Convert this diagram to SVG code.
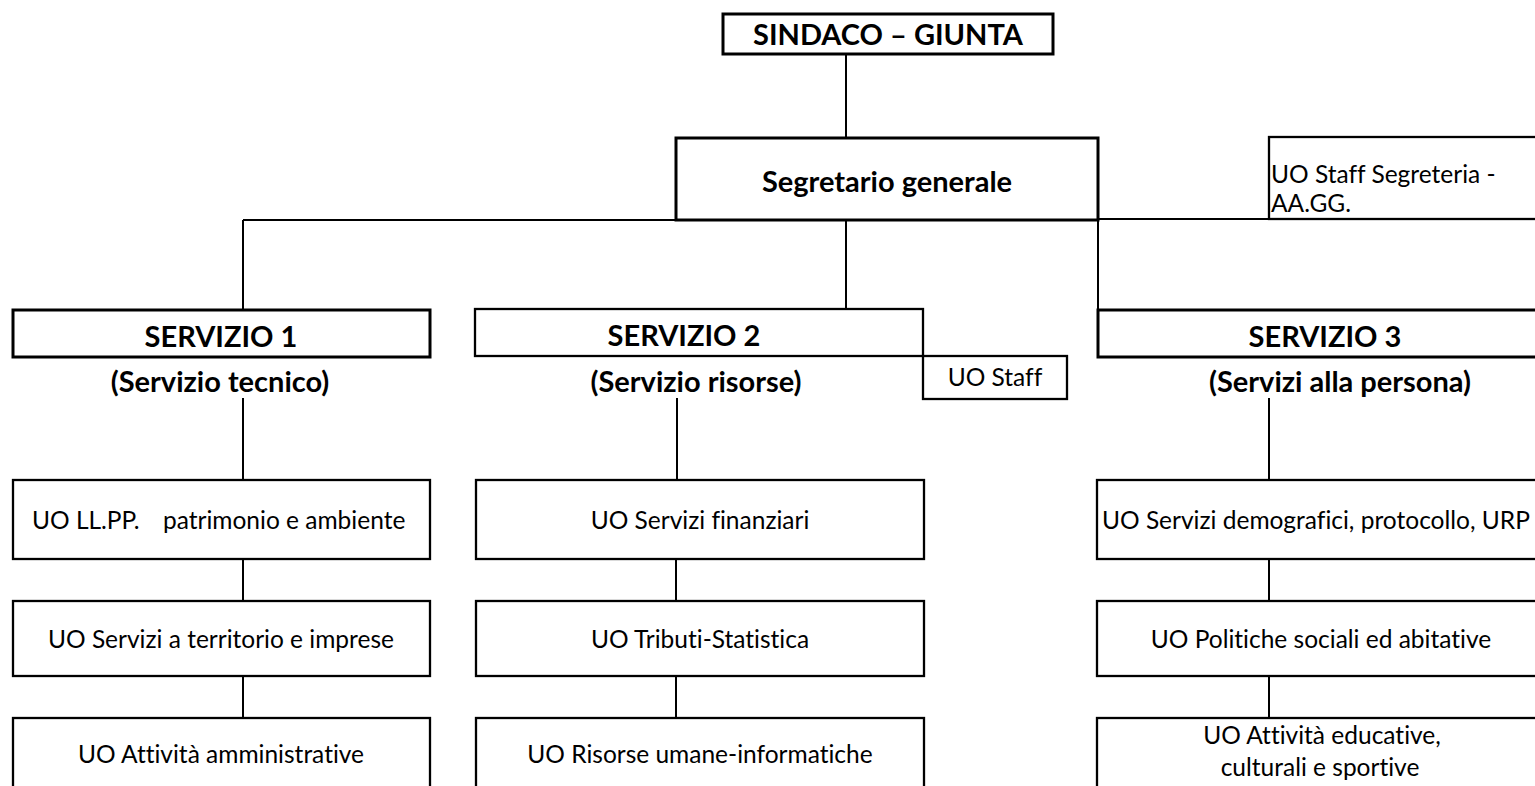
<svg xmlns="http://www.w3.org/2000/svg" width="1535" height="786" viewBox="0 0 1535 786">
<style>
  .bg { fill: #ffffff; }
  .box { fill: #ffffff; stroke: #000000; stroke-width: 2.3; }
  .thick { fill: #ffffff; stroke: #000000; stroke-width: 3; }
  .conn line { stroke: #000000; stroke-width: 2; }
  text { font-variant-ligatures: none; }
  .h { font-family: Lato, "Liberation Sans", sans-serif; font-weight: bold; font-size: 29px; fill: #000000; }
  .t { font-family: Lato, "Liberation Sans", sans-serif; font-size: 24.5px; fill: #000000; }
  .m { text-anchor: middle; }
</style>
<rect class="bg" x="0" y="0" width="1535" height="786"/>

<g id="connectors" class="conn">
  <line x1="846" y1="54" x2="846" y2="137"/>
  <line x1="243" y1="220" x2="676" y2="220"/>
  <line x1="243" y1="220" x2="243" y2="310"/>
  <line x1="846" y1="220" x2="846" y2="309"/>
  <line x1="1098" y1="220" x2="1098" y2="310"/>
  <line x1="1098" y1="219" x2="1269" y2="219"/>
  <line x1="243" y1="398" x2="243" y2="480"/>
  <line x1="677" y1="398" x2="677" y2="480"/>
  <line x1="1269" y1="398" x2="1269" y2="480"/>
  <line x1="243" y1="559" x2="243" y2="601"/>
  <line x1="243" y1="676" x2="243" y2="718"/>
  <line x1="676" y1="559" x2="676" y2="601"/>
  <line x1="676" y1="676" x2="676" y2="718"/>
  <line x1="1269" y1="559" x2="1269" y2="601"/>
  <line x1="1269" y1="676" x2="1269" y2="718"/>
</g>

<g id="sindaco">
  <rect class="thick" x="723" y="14" width="330" height="40"/>
  <text class="h m" x="888" y="45">SINDACO – GIUNTA</text>
</g>

<g id="segretario">
  <rect class="thick" x="676" y="138" width="422" height="82"/>
  <text class="h m" x="887" y="192">Segretario generale</text>
</g>

<g id="staff-segreteria">
  <rect class="box" x="1269" y="137" width="290" height="82"/>
  <text class="t" x="1271" y="183">UO Staff Segreteria -</text>
  <text class="t" x="1271" y="212">AA.GG.</text>
</g>

<g id="servizio1">
  <rect class="thick" x="13" y="310" width="417" height="47"/>
  <text class="h m" x="221" y="347">SERVIZIO 1</text>
  <text class="h m" x="220" y="392">(Servizio tecnico)</text>
</g>

<g id="servizio2">
  <rect class="box" x="475" y="309" width="448" height="47"/>
  <text class="h m" x="684" y="346">SERVIZIO 2</text>
  <text class="h m" x="696" y="392">(Servizio risorse)</text>
</g>

<g id="uo-staff">
  <rect class="box" x="923" y="356" width="144" height="43"/>
  <text class="t m" x="995" y="386">UO Staff</text>
</g>

<g id="servizio3">
  <rect class="thick" x="1098" y="310" width="460" height="47"/>
  <text class="h m" x="1325" y="347">SERVIZIO 3</text>
  <text class="h m" x="1340" y="392">(Servizi alla persona)</text>
</g>

<g id="uo-llpp">
  <rect class="box" x="13" y="480" width="417" height="79"/>
  <text class="t"><tspan x="32" y="529">UO LL.PP.</tspan><tspan x="163" y="529">patrimonio e ambiente</tspan></text>
</g>
<g id="uo-territorio">
  <rect class="box" x="13" y="601" width="417" height="75"/>
  <text class="t m" x="221" y="648">UO Servizi a territorio e imprese</text>
</g>
<g id="uo-amministrative">
  <rect class="box" x="13" y="718" width="417" height="90"/>
  <text class="t m" x="221" y="763">UO Attività amministrative</text>
</g>

<g id="uo-finanziari">
  <rect class="box" x="476" y="480" width="448" height="79"/>
  <text class="t m" x="700" y="529">UO Servizi finanziari</text>
</g>
<g id="uo-tributi">
  <rect class="box" x="476" y="601" width="448" height="75"/>
  <text class="t m" x="700" y="648">UO Tributi-Statistica</text>
</g>
<g id="uo-risorse-umane">
  <rect class="box" x="476" y="718" width="448" height="90"/>
  <text class="t m" x="700" y="763">UO Risorse umane-informatiche</text>
</g>

<g id="uo-demografici">
  <rect class="box" x="1097" y="480" width="460" height="79"/>
  <text class="t" x="1102" y="529">UO Servizi demografici, protocollo, URP</text>
</g>
<g id="uo-politiche">
  <rect class="box" x="1097" y="601" width="460" height="75"/>
  <text class="t m" x="1321" y="648">UO Politiche sociali ed abitative</text>
</g>
<g id="uo-educative">
  <rect class="box" x="1097" y="718" width="460" height="90"/>
  <text class="t m" x="1322" y="744">UO Attività educative,</text>
  <text class="t m" x="1320" y="776">culturali e sportive</text>
</g>
</svg>
